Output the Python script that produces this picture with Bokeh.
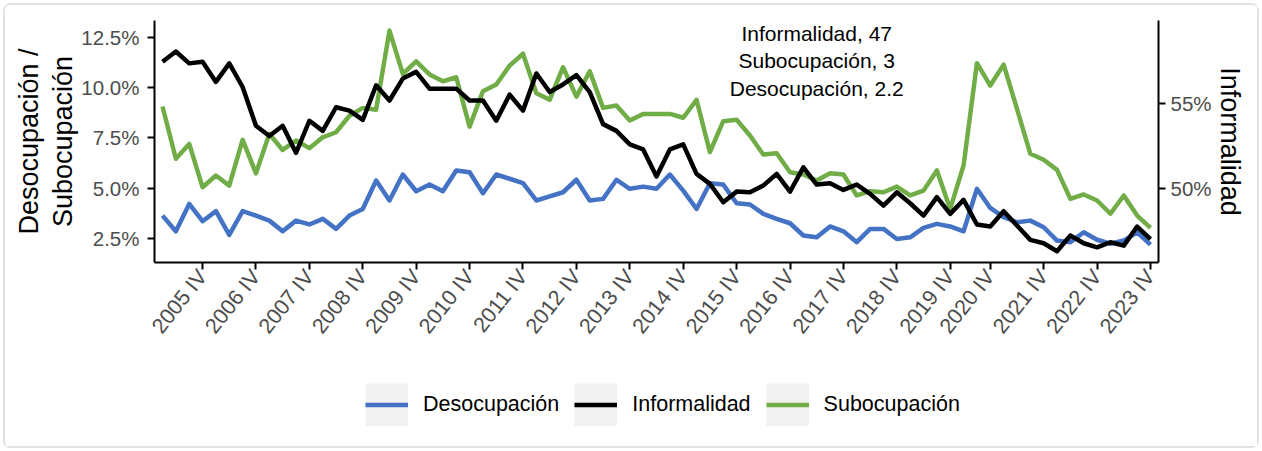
import math
from bokeh.plotting import figure
from bokeh.layouts import column
from bokeh.models import (Range1d, LinearAxis, FixedTicker, Legend, LegendItem,
                          Label, PrintfTickFormatter)
from bokeh.embed import file_html
from bokeh.resources import INLINE

# ---------------- data ----------------
years = list(range(2005, 2024))
roman = ["I", "II", "III", "IV"]
quarters = [f"{y} {q}" for y in years for q in roman if f"{y} {q}" != "2020 II"]

desocupacion = [3.64, 2.86, 4.22, 3.36, 3.86, 2.68, 3.86, 3.64, 3.39, 2.86,
                3.39, 3.20, 3.48, 2.98, 3.64, 3.97, 5.38, 4.39, 5.68, 4.85,
                5.18, 4.85, 5.88, 5.79, 4.75, 5.68, 5.47, 5.25, 4.39, 4.59,
                4.80, 5.42, 4.39, 4.47, 5.42, 4.97, 5.08, 4.97, 5.68, 4.88,
                3.97, 5.25, 5.18, 4.25, 4.19, 3.73, 3.48, 3.26, 2.65, 2.56,
                3.10, 2.86, 2.32, 2.98, 2.98, 2.48, 2.56, 3.03, 3.23, 3.10,
                2.86, 4.97, 4.02, 3.56, 3.31, 3.39, 3.06, 2.40, 2.32, 2.81,
                2.44, 2.24, 2.40, 2.81, 2.20]

subocupacion = [9.06, 6.46, 7.20, 5.05, 5.63, 5.13, 7.40, 5.74, 7.70, 6.90,
                7.37, 6.99, 7.53, 7.78, 8.60, 8.99, 8.90, 12.83, 10.68, 11.30,
                10.65, 10.31, 10.51, 8.06, 9.82, 10.15, 11.09, 11.68, 9.72, 9.39,
                11.01, 9.55, 10.81, 8.99, 9.11, 8.36, 8.69, 8.69, 8.69, 8.50,
                9.39, 6.79, 8.33, 8.40, 7.62, 6.67, 6.74, 5.79, 5.68, 5.38,
                5.74, 5.68, 4.64, 4.85, 4.80, 5.08, 4.64, 4.88, 5.88, 3.97,
                6.13, 11.21, 10.10, 11.14, 8.94, 6.71, 6.41, 5.91, 4.47, 4.69,
                4.39, 3.73, 4.64, 3.64, 3.03]

informalidad = [57.5, 58.1, 57.4, 57.5, 56.3, 57.4, 56.0, 53.7, 53.1, 53.7,
                52.1, 54.0, 53.4, 54.8, 54.6, 54.05, 56.1, 55.2, 56.5, 56.9,
                55.9, 55.9, 55.9, 55.2, 55.2, 54.0, 55.55, 54.6, 56.8, 55.7,
                56.15, 56.7, 55.7, 53.8, 53.4, 52.6, 52.3, 50.7, 52.3, 52.6,
                50.85, 50.26, 49.17, 49.8, 49.76, 50.16, 50.85, 49.8, 51.24, 50.22,
                50.3, 49.9, 50.22, 49.67, 48.97, 49.76, 49.11, 48.38, 49.47, 48.48,
                49.31, 47.85, 47.73, 48.64, 47.79, 46.94, 46.74, 46.27, 47.2, 46.74,
                46.5, 46.8, 46.6, 47.73, 46.98]

series_names = ["Desocupación", "Informalidad", "Subocupación"]
series_colors = ["#4472C4", "#000000", "#70AD47"]
left_ticks = [2.5, 5.0, 7.5, 10.0, 12.5]
right_ticks = [50, 55]

x = list(range(len(quarters)))
x_ticks = [i for i, q in enumerate(quarters) if q.endswith(" IV")]
x_labels = {i: quarters[i] for i in x_ticks}

FONT = "Liberation Sans"
INSET = 5
W = 1262 - 2 * INSET
H_MAIN = 352 - INSET
H_LEG = 451 - 2 * INSET - H_MAIN

p = figure(width=W, height=H_MAIN, output_backend="svg", toolbar_location=None,
           x_range=Range1d(-0.6, len(quarters) - 1 + 0.6),
           y_range=Range1d(1.31, 13.33),
           min_border_left=154 - INSET, min_border_right=104 - INSET,
           min_border_top=20 - INSET, min_border_bottom=90,
           x_axis_location="below")
p.extra_y_ranges = {"inf": Range1d(45.6, 59.94)}
p.outline_line_color = None
p.xgrid.visible = False
p.ygrid.visible = False
p.background_fill_color = "white"
p.border_fill_color = "white"

right_axis = LinearAxis(y_range_name="inf")
p.add_layout(right_axis, "right")

for ax in [p.xaxis[0], p.yaxis[0], right_axis]:
    ax.axis_line_color = "black"
    ax.axis_line_width = 2
    ax.major_tick_line_color = "black"
    ax.major_tick_line_width = 2
    ax.major_tick_out = 7
    ax.major_tick_in = 0
    ax.minor_tick_line_color = None
    ax.major_label_text_color = "#4d4d4d"
    ax.major_label_text_font = FONT
    ax.major_label_text_font_size = "20.5px"
    ax.axis_label_text_font = FONT
    ax.axis_label_text_font_size = "27px"
    ax.axis_label_text_font_style = "normal"
    ax.axis_label_text_color = "black"

p.xaxis.ticker = FixedTicker(ticks=x_ticks)
p.xaxis.major_label_overrides = x_labels
p.xaxis.major_label_orientation = 0.9
p.xaxis.major_label_text_font_size = "21.5px"
p.xaxis.major_label_standoff = 3

p.yaxis[0].ticker = FixedTicker(ticks=left_ticks)
p.yaxis[0].formatter = PrintfTickFormatter(format="%.1f%%")
p.yaxis[0].major_label_standoff = 8
p.yaxis[0].axis_label = "Desocupación /\nSubocupación"
p.yaxis[0].axis_label_standoff = 0
p.yaxis[0].axis_label_text_line_height = 1.15

right_axis.ticker = FixedTicker(ticks=right_ticks)
right_axis.formatter = PrintfTickFormatter(format="%d%%")
right_axis.major_label_standoff = 5
right_axis.axis_label = "Informalidad"
right_axis.axis_label_standoff = 0

LW = 4.5
r_des = p.line(x, desocupacion, line_width=LW, color=series_colors[0], line_join="round")
r_sub = p.line(x, subocupacion, line_width=LW, color=series_colors[2], line_join="round")
r_inf = p.line(x, informalidad, line_width=LW, color=series_colors[1], line_join="round",
               y_range_name="inf")

ann_text = (f"{series_names[1]}, {round(informalidad[-1])}\n"
            f"{series_names[2]}, {round(subocupacion[-1])}\n"
            f"{series_names[0]}, {desocupacion[-1]}")
p.add_layout(Label(x=49, y=13.28, text=ann_text, text_align="center",
                   text_baseline="top", text_font=FONT, text_font_size="21px",
                   text_color="black", text_line_height=1.2))

# ---------------- legend (separate strip) ----------------
pl = figure(width=W, height=H_LEG, output_backend="svg", toolbar_location=None,
            x_range=Range1d(0, 1), y_range=Range1d(0, 1),
            min_border=0, x_axis_location=None, y_axis_location=None)
pl.outline_line_color = None
pl.xgrid.visible = False
pl.ygrid.visible = False
pl.border_fill_color = "white"

bg = pl.line([-10, -9], [-10, -10], line_width=43, color="#f2f2f2", line_cap="butt")
items = []
for name, col in zip(series_names, series_colors):
    r = pl.line([-10, -9], [-10, -10], line_width=LW, color=col)
    items.append(LegendItem(label=name, renderers=[bg, r]))

legend = Legend(items=items, orientation="horizontal", location=(211, H_LEG - 31 - 43))
legend.glyph_width = 43
legend.glyph_height = 43
legend.label_standoff = 15
legend.spacing = 15
legend.padding = 0
legend.margin = 0
legend.border_line_color = None
legend.background_fill_alpha = 0
legend.label_text_font = FONT
legend.label_text_font_size = "21.5px"
legend.label_text_color = "black"
pl.add_layout(legend)

layout = column(p, pl, spacing=0)
layout.styles = {"margin": f"{INSET}px", "box-shadow": "0 0 0 2px #e2e2e2",
                 "border-radius": "5px"}
open("out.html", "w").write(file_html(layout, INLINE))
